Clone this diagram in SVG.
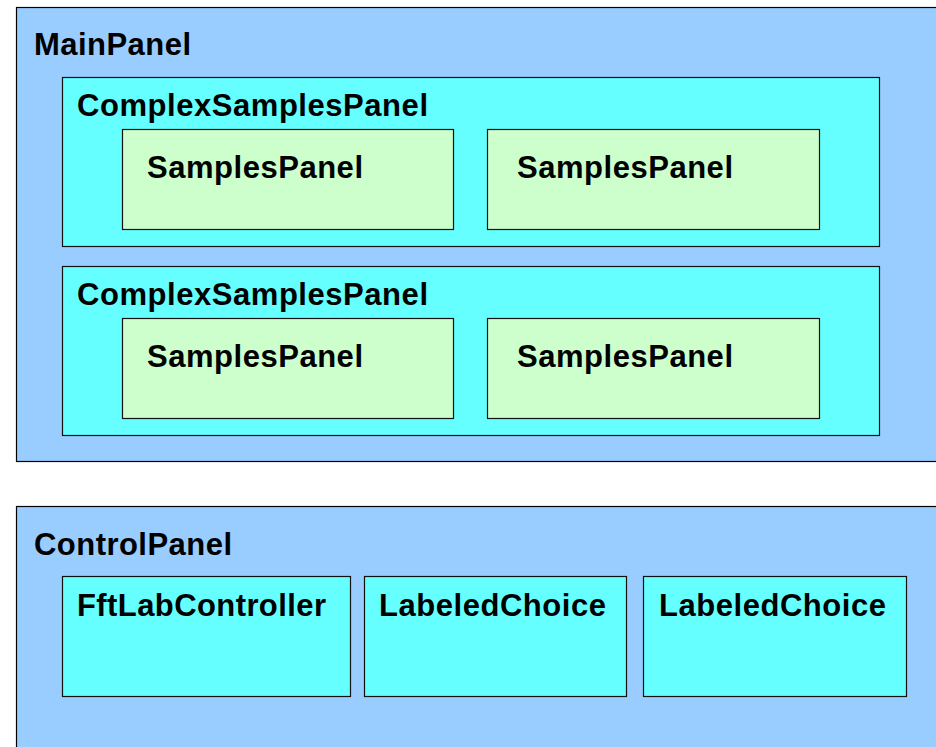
<svg xmlns="http://www.w3.org/2000/svg" width="936" height="747" viewBox="0 0 936 747">
<style>
.panel{fill:#99ccff;stroke:#000;stroke-width:1.2}
.cyan{fill:#66ffff;stroke:#111;stroke-width:1.2}
.green{fill:#ccffcc;stroke:#111;stroke-width:1.2}
text{font-family:"Liberation Sans",Arial,sans-serif;font-weight:bold;font-size:31px;fill:#000}
</style>
<rect width="936" height="747" fill="#fff"/>
<g id="MainPanel">
<rect class="panel" x="16.5" y="7.5" width="930" height="454"/>
<text x="34" y="55" textLength="157" lengthAdjust="spacing">MainPanel</text>
</g>
<g id="ComplexSamplesPanel1">
<rect class="cyan" x="62.5" y="77.5" width="817" height="169"/>
<text x="77" y="116" textLength="351" lengthAdjust="spacing">ComplexSamplesPanel</text>
</g>
<g id="SamplesPanel1">
<rect class="green" x="122.5" y="129.5" width="331" height="100"/>
<text x="147" y="178" textLength="216" lengthAdjust="spacing">SamplesPanel</text>
</g>
<g id="SamplesPanel2">
<rect class="green" x="487.5" y="129.5" width="332" height="100"/>
<text x="517" y="178" textLength="216" lengthAdjust="spacing">SamplesPanel</text>
</g>
<g id="ComplexSamplesPanel2">
<rect class="cyan" x="62.5" y="266.5" width="817" height="169"/>
<text x="77" y="305" textLength="351" lengthAdjust="spacing">ComplexSamplesPanel</text>
</g>
<g id="SamplesPanel3">
<rect class="green" x="122.5" y="318.5" width="331" height="100"/>
<text x="147" y="367" textLength="216" lengthAdjust="spacing">SamplesPanel</text>
</g>
<g id="SamplesPanel4">
<rect class="green" x="487.5" y="318.5" width="332" height="100"/>
<text x="517" y="367" textLength="216" lengthAdjust="spacing">SamplesPanel</text>
</g>
<g id="ControlPanel">
<rect class="panel" x="16.5" y="506.5" width="930" height="260"/>
<text x="34" y="555" textLength="198" lengthAdjust="spacing">ControlPanel</text>
</g>
<g id="FftLabController">
<rect class="cyan" x="62.5" y="576.5" width="288" height="120"/>
<text x="77" y="616" textLength="249" lengthAdjust="spacing">FftLabController</text>
</g>
<g id="LabeledChoice1">
<rect class="cyan" x="364.5" y="576.5" width="262" height="120"/>
<text x="379" y="616" textLength="227" lengthAdjust="spacing">LabeledChoice</text>
</g>
<g id="LabeledChoice2">
<rect class="cyan" x="643.5" y="576.5" width="263" height="120"/>
<text x="659" y="616" textLength="227" lengthAdjust="spacing">LabeledChoice</text>
</g>
<g id="connectors"/>
</svg>
